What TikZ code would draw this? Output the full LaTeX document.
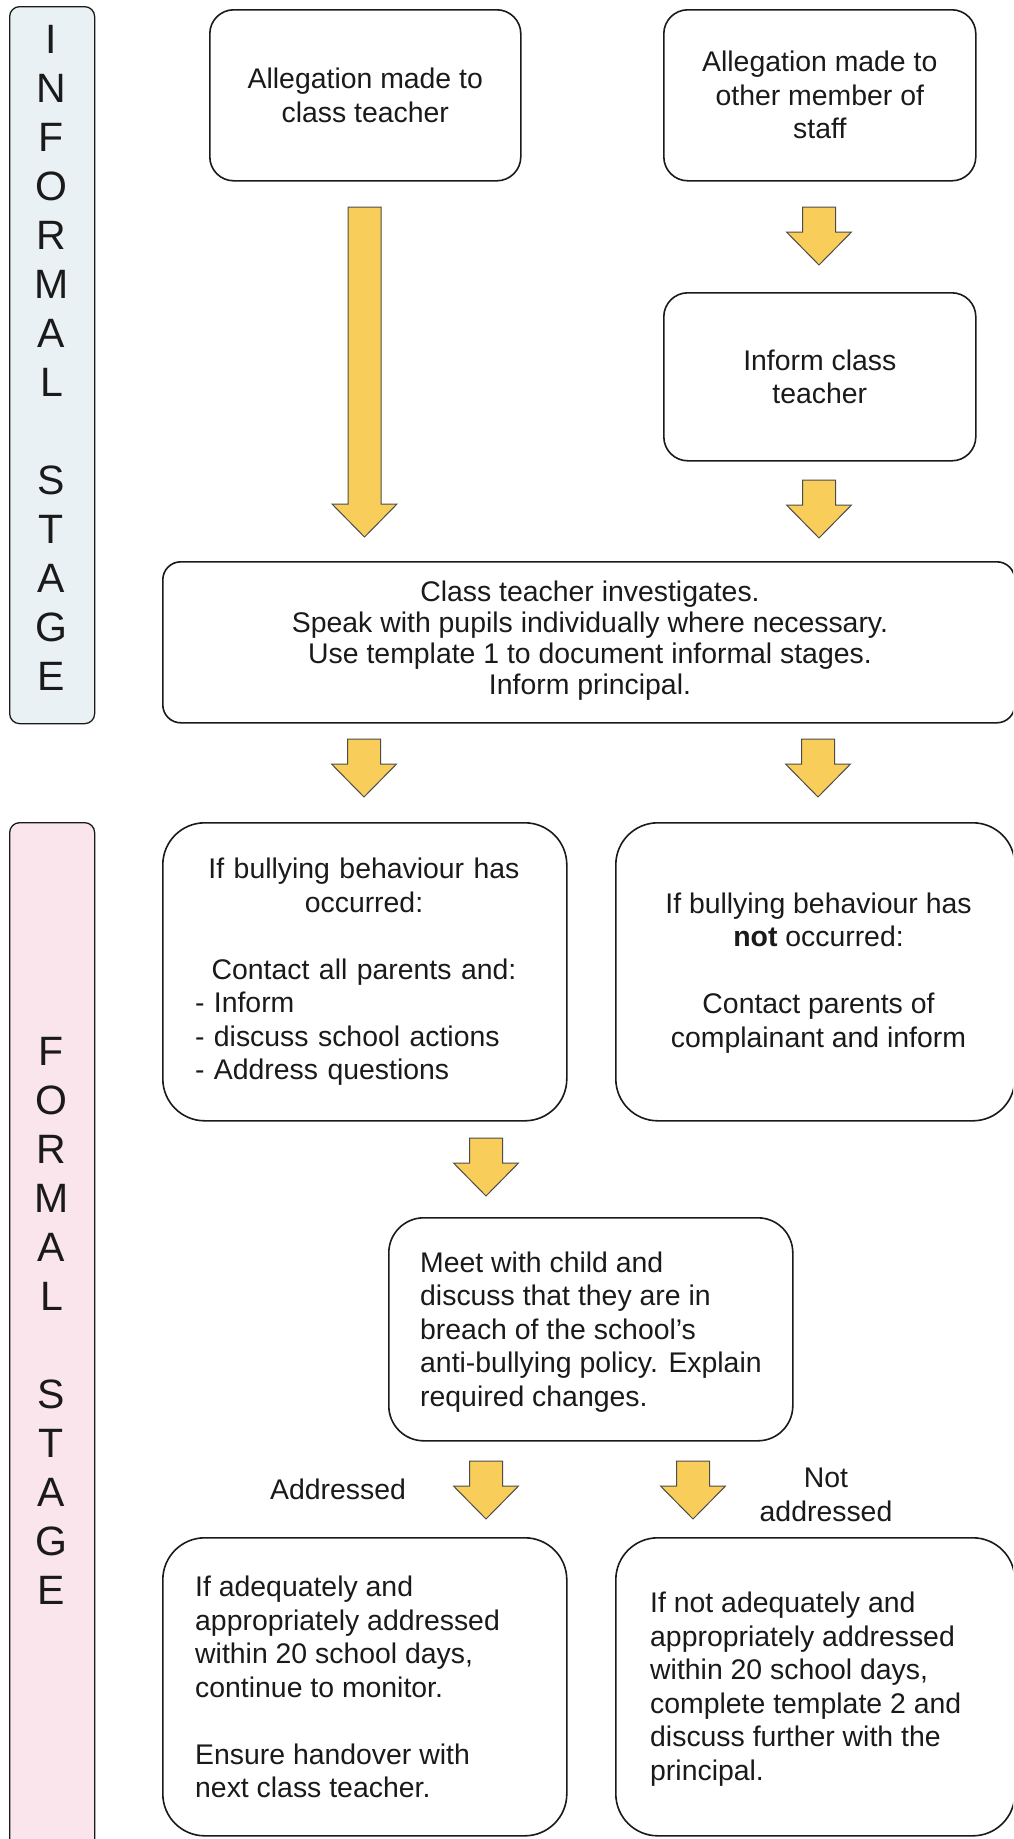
\documentclass[tikz,border=0pt]{standalone}
\usepackage{fontspec}
\setmainfont{Liberation Sans}
\definecolor{arrowyellow}{HTML}{F9CD5A}
\definecolor{informalfill}{HTML}{EAF1F4}
\definecolor{formalfill}{HTML}{F9E5EB}
\definecolor{inkc}{HTML}{1A1A1A}
\newcommand\bodyfont{\fontsize{28.4}{33.5}\selectfont}
\newcommand\dboxfont{\fontsize{28.4}{31}\selectfont}
\newcommand\barfontA{\fontsize{41}{49}\selectfont}
\newcommand\blockarrow[3]{%
  \filldraw[arrowshape] ({#1-16.5},#2) -- ({#1+16.5},#2) -- ({#1+16.5},{#3-33}) -- ({#1+32.5},{#3-33}) -- (#1,#3) -- ({#1-32.5},{#3-33}) -- ({#1-16.5},{#3-33}) -- cycle;}
\tikzset{
  box/.style={draw=inkc, line width=1.6pt, fill=white, anchor=north west, inner sep=0pt, text=inkc, font=\bodyfont, align=center},
  stagebar/.style={draw=inkc, line width=1.3pt, rounded corners=10pt, anchor=north west, inner sep=0pt},
  arrowshape/.style={fill=arrowyellow, draw=black!70, line width=1pt},
  txt/.style={text=inkc, font=\bodyfont, inner sep=0pt},
}
\begin{document}
\begin{tikzpicture}[x=1pt,y=-1pt]
\useasboundingbox (0,0) rectangle (1013,1839);
\clip (0,0) rectangle (1013,1839);
\fill[white] (0,0) rectangle (1013,1839);
% stage bars
\node[stagebar, fill=informalfill, minimum width=85pt, minimum height=717pt] (informal) at (9,6) {};
\node[txt, font=\barfontA, align=center] (informaltxt) at (51.5,358) {I\\N\\F\\O\\R\\M\\A\\L\\\mbox{}\\S\\T\\A\\G\\E};
\node[stagebar, fill=formalfill, minimum width=85pt, minimum height=1040pt] (formal) at (9,822) {};
\node[txt, font=\barfontA, align=center] (formaltxt) at (51.5,1321) {F\\O\\R\\M\\A\\L\\\mbox{}\\S\\T\\A\\G\\E};
% informal boxes
\node[box, rounded corners=24pt, minimum width=311pt, minimum height=171pt] (A) at (209,9) {Allegation made to\\class teacher};
\node[box, rounded corners=24pt, minimum width=312pt, minimum height=171pt] (B) at (663,9) {Allegation made to\\other member of\\staff};
\node[box, rounded corners=24pt, minimum width=312pt, minimum height=168pt] (C) at (663,292) {Inform class\\teacher};
\node[box, rounded corners=18pt, minimum width=852pt, minimum height=161pt] (D) at (162,561) {};
\node[txt, font=\dboxfont, align=center] (Dtxt) at (590,641) {Class teacher investigates.\\Speak with pupils individually where necessary.\\Use template 1 to document informal stages.\\Inform principal.};
% formal boxes
\node[box, rounded corners=42pt, minimum width=404pt, minimum height=298pt] (E) at (162,822) {};
\node[txt, text width=338pt, align=left] (Etxt) at (364,972) {\makebox[338pt]{If bullying behaviour has}\\\makebox[338pt]{occurred:}\\\mbox{}\\\makebox[338pt]{Contact all parents and:}\\- Inform\\- discuss school actions\\- Address questions};
\node[box, rounded corners=42pt, minimum width=399pt, minimum height=298pt] (F) at (615,822) {};
\node[txt, align=center] (Ftxt) at (818.5,973) {If bullying behaviour has\\\textbf{not} occurred:\\\mbox{}\\Contact parents of\\complainant and inform};
\node[box, rounded corners=35pt, minimum width=404pt, minimum height=223pt] (G) at (388,1217) {};
\node[txt, align=left, anchor=west] (Gtxt) at (420,1332) {Meet with child and\\discuss that they are in\\breach of the school’s\\anti-bullying policy. Explain\\required changes.};
\node[box, rounded corners=42pt, minimum width=404pt, minimum height=298pt] (H) at (162,1537) {};
\node[txt, align=left, anchor=west] (Htxt) at (195,1687) {If adequately and\\appropriately addressed\\within 20 school days,\\continue to monitor.\\\mbox{}\\Ensure handover with\\next class teacher.};
\node[box, rounded corners=42pt, minimum width=399pt, minimum height=298pt] (I) at (615,1537) {};
\node[txt, align=left, anchor=west] (Itxt) at (650,1689) {If not adequately and\\appropriately addressed\\within 20 school days,\\complete template 2 and\\discuss further with the\\principal.};
% labels
\node[txt] (addr) at (338,1489) {Addressed};
\node[txt, align=center] (notaddr) at (826,1495) {Not\\addressed};
% block arrows
\blockarrow{364.5}{207}{537}
\blockarrow{819}{207}{265}
\blockarrow{819}{480}{538}
\blockarrow{364}{739}{797}
\blockarrow{818}{739}{797}
\blockarrow{486}{1138}{1196}
\blockarrow{486}{1461}{1519}
\blockarrow{693}{1461}{1519}
\end{tikzpicture}
\end{document}
